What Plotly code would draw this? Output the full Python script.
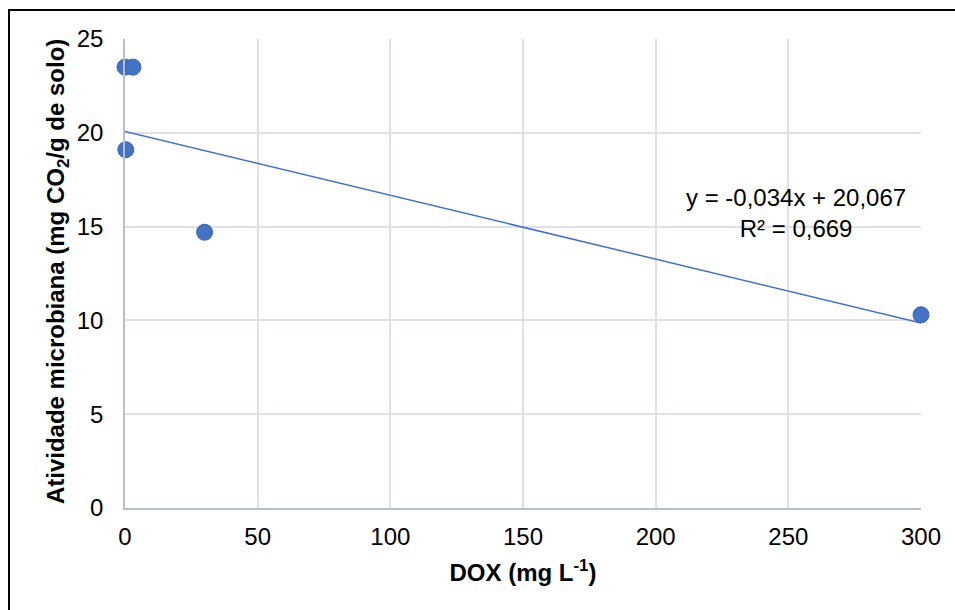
import plotly.graph_objects as go

# Dose of DOX (mg/L) and microbial activity (mg CO2 / g soil)
dox = [0, 3, 0.3, 30, 300]
atividade = [23.5, 23.5, 19.1, 14.7, 10.3]

# Linear trendline reported for the series
slope = -0.034
intercept = 20.067
r2 = 0.669
trend_x = [0, 300]
trend_y = [intercept + slope * v for v in trend_x]

x_ticks = [0, 50, 100, 150, 200, 250, 300]
y_ticks = [0, 5, 10, 15, 20, 25]

blue = "#4472C4"
font = "Liberation Sans, Arial, sans-serif"

fig = go.Figure()
fig.add_trace(go.Scatter(
    x=trend_x, y=trend_y, mode="lines",
    line=dict(color=blue, width=1.5), hoverinfo="skip", showlegend=False,
))
fig.add_trace(go.Scatter(
    x=dox, y=atividade, mode="markers", cliponaxis=False,
    marker=dict(color=blue, size=16, line=dict(color="#3a64b0", width=1)),
    showlegend=False,
))

eq_text = (f"y = {slope:.3f}x + {intercept:.3f}".replace(".", ",")
           + "<br>" + f"R² = {r2:.3f}".replace(".", ","))
fig.add_annotation(
    x=253, y=15.7, xref="x", yref="y", text=eq_text, showarrow=False,
    align="center", font=dict(family=font, size=24, color="#000000"),
)

# Y-axis title placed as a rotated annotation
fig.add_annotation(
    x=-0.0854, y=0.503, xref="paper", yref="paper", xanchor="center", yanchor="middle",
    text="<b>Atividade microbiana (mg CO<sub>2</sub>/g de solo)</b>",
    textangle=-90, showarrow=False,
    font=dict(family=font, size=24, color="#000"),
)

fig.update_xaxes(
    range=[0, 300], tickvals=x_ticks, ticktext=[str(v) for v in x_ticks],
    showgrid=True, gridcolor="#DEE1E8", gridwidth=1.5,
    zeroline=False, showline=True, linecolor="#B4BFD0", linewidth=1.5,
    ticks="outside", ticklen=6, tickcolor="rgba(0,0,0,0)",
    tickfont=dict(family=font, size=24, color="#000"),
    title=dict(text="<b>DOX (mg L<sup>-1</sup>)</b>",
               font=dict(family=font, size=24, color="#000"), standoff=16),
)
fig.update_yaxes(
    range=[0, 25], tickvals=y_ticks, ticktext=[str(v) for v in y_ticks],
    showgrid=True, gridcolor="#DEE1E8", gridwidth=1.5,
    zeroline=False, showline=True, linecolor="#B4BFD0", linewidth=1.5,
    ticks="outside", ticklen=15, tickcolor="rgba(0,0,0,0)",
    tickfont=dict(family=font, size=24, color="#000"),
)

# Outer chart frame
fig.add_shape(type="rect", xref="paper", yref="paper",
              x0=-0.1457, x1=1.06, y0=-0.24, y1=1.0618,
              line=dict(color="#000000", width=2), fillcolor="rgba(0,0,0,0)",
              layer="above")

fig.update_layout(
    width=955, height=610,
    margin=dict(l=125, r=34, t=39, b=102),
    plot_bgcolor="white", paper_bgcolor="white",
    font=dict(family=font),
)

fig.write_html("out.html")
